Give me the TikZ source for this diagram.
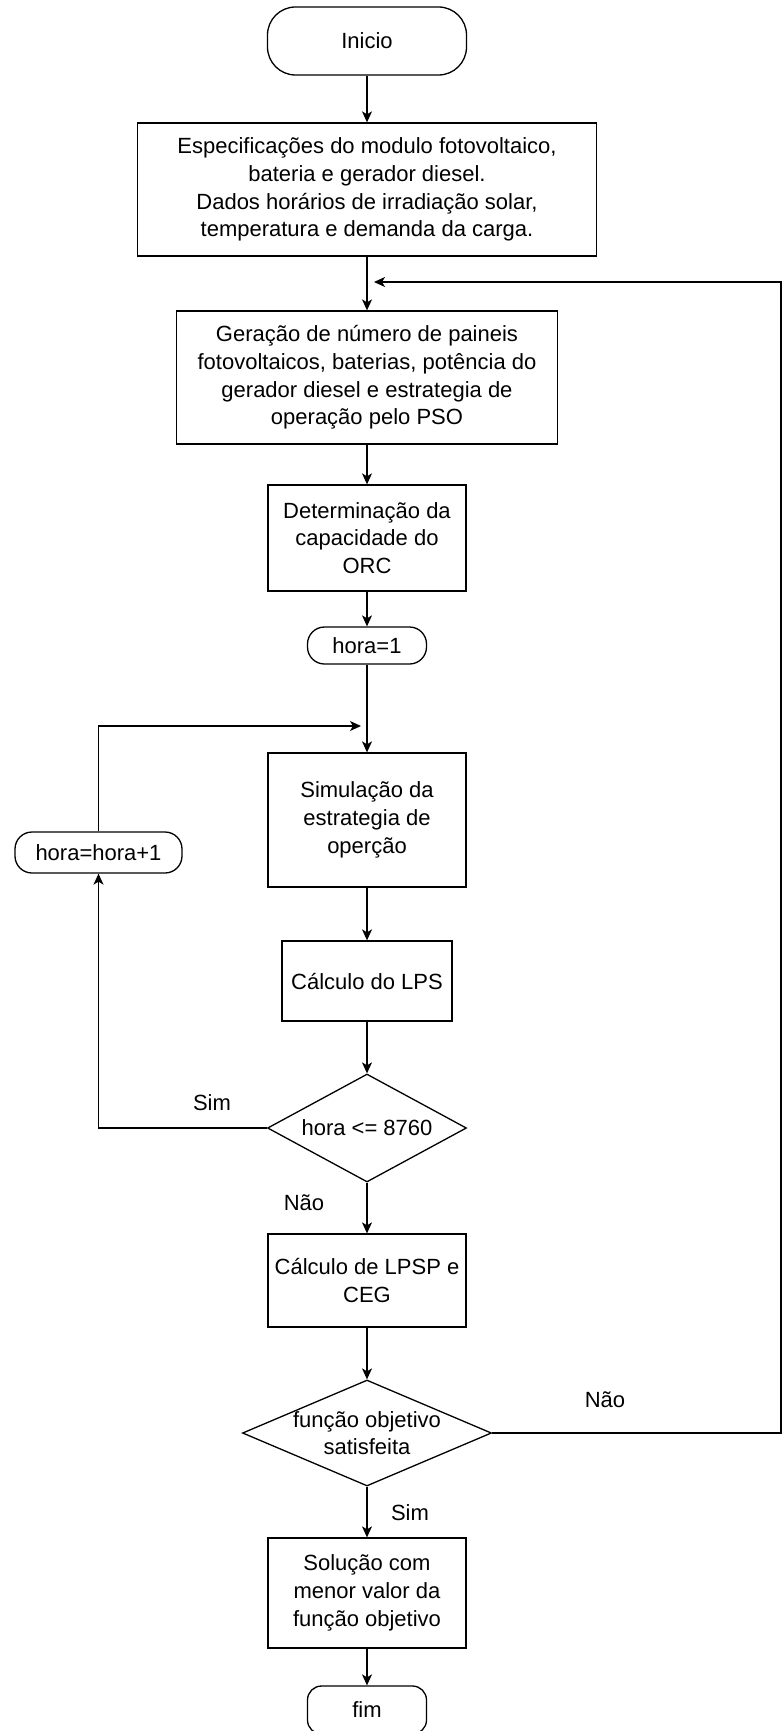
\documentclass[tikz,border=0pt]{standalone}
\usepackage{fontspec}
\setmainfont{Liberation Sans}
\usetikzlibrary{shapes.geometric, arrows.meta}
\tikzstyle{terminal} = [rectangle, rounded corners=28pt, minimum width=199pt, minimum height=68pt, text centered, draw=black, line width=1.3pt]
\tikzstyle{counter} = [rectangle, rounded corners=17pt, minimum width=119pt, minimum height=37pt, text centered, draw=black, line width=1.3pt]
\tikzstyle{process} = [rectangle, minimum width=198pt, minimum height=106pt, inner sep=2pt, align=center, draw=black, line width=1.3pt]
\tikzstyle{decision} = [diamond, minimum width=199pt, minimum height=108pt, inner sep=0pt, draw=black, line width=1.3pt]
\tikzstyle{arrow} = [line width=1.3pt, ->, >={Stealth[length=11pt, width=10pt, inset=3pt]}]

\begin{document}
\begin{tikzpicture}[x=1pt, y=-1pt, node distance=150pt, font=\fontsize{22}{27.7}\selectfont]
	\useasboundingbox (0,0) rectangle (783,1731);
	
	\node (start) [terminal] at (367,41) {Inicio};
	\node (spec) [process, below of=start, yshift=1.5pt, minimum width=459pt, minimum height=133pt] {Especificações do modulo fotovoltaico,\\bateria e gerador diesel.\\Dados horários de irradiação solar,\\temperatura e demanda da carga.};
	\node (gen) [process, below of=spec, yshift=-38pt, minimum width=381pt, minimum height=133pt] {Geração de número de paineis\\fotovoltaicos, baterias, potência do\\gerador diesel e estrategia de\\operação pelo PSO};
	\node (orc) [process, below of=gen, yshift=-10.5pt] {Determinação da\\capacidade do\\ORC};
	\node (hour) [counter, below of=orc, yshift=42.5pt] {hora=1};
	\node (sim) [process, below of=hour, yshift=-24.5pt, minimum height=134pt] {Simulação da\\estrategia de\\operção};
	\node (lps) [process, below of=sim, yshift=-11pt, minimum width=170pt, minimum height=80pt] {Cálculo do LPS};
	\node (check) [decision, below of=lps, yshift=3pt] {};
	\node (checktxt) at (check) {hora <= 8760};
	\node (lpsp) [process, below of=check, yshift=-2.5pt, minimum height=93pt] {Cálculo de LPSP e\\CEG};
	\node (goal) [decision, below of=lpsp, yshift=-2.5pt, minimum width=249pt, minimum height=106pt] {};
	\node (goaltxt) [align=center] at (goal) {função objetivo\\satisfeita};
	\node (best) [process, below of=goal, yshift=-10pt, minimum height=110pt] {Solução com\\menor valor da\\função objetivo};
	\node (stop) [counter, below of=best, yshift=33pt, minimum height=48pt, rounded corners=14pt] {fim};
	\node (next) [counter, left of=sim, xshift=-118.5pt, yshift=-32.5pt, minimum width=167pt, minimum height=41pt] {hora=hora+1};
	
	% answers of the two tests
	\node (yes1) at (212,1103) {Sim};
	\node (no1) at (304,1203) {Não};
	\node (no2) at (605,1400) {Não};
	\node (yes2) at (410,1513) {Sim};
	
	\coordinate (loopin) at (361,726);
	\coordinate (edge) at (781,282);
	\coordinate (backin) at (374,282);
	
	\draw [arrow] (start) -- (spec);
	\draw [arrow] (spec) -- (gen);
	\draw [arrow] (gen) -- (orc);
	\draw [arrow] (orc) -- (hour);
	\draw [arrow] (hour) -- (sim);
	\draw [arrow] (sim) -- (lps);
	\draw [arrow] (lps) -- (check);
	\draw [arrow] (check) -- (lpsp);
	\draw [arrow] (lpsp) -- (goal);
	\draw [arrow] (goal) -- (best);
	\draw [arrow] (best) -- (stop);
	
	% hourly loop and return to the PSO step
	\draw [arrow] (check.west) -| (next.south);
	\draw [arrow] (next.north) |- (loopin);
	\draw [arrow] (goal.east) -| (edge) -- (backin);
	
\end{tikzpicture}
\end{document}
